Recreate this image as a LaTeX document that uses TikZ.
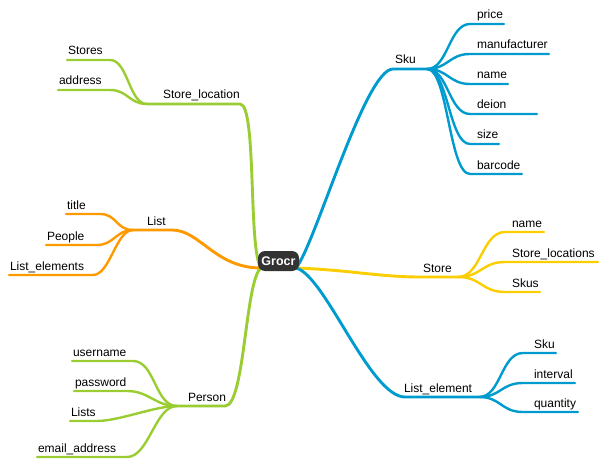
\documentclass[tikz,border=0pt]{standalone}
\usepackage{fontspec}
\setmainfont{Liberation Sans}
\definecolor{mmblue}{RGB}{0,155,206}
\definecolor{mmgreen}{RGB}{154,205,50}
\definecolor{mmorange}{RGB}{255,153,0}
\definecolor{mmyellow}{RGB}{250,206,0}
\definecolor{rootfill}{RGB}{51,51,51}
\tikzset{
  lbl/.style={anchor=base west, inner sep=0pt, outer sep=0pt, font=\fontsize{12}{14}\selectfont, text=black},
  leafline/.style={line width=2.4pt, line cap=round, line join=round},
  branchline/.style={line width=2.9pt, line cap=round, line join=round},
  rootbox/.style={fill=rootfill, rounded corners=7pt, minimum width=41pt, minimum height=20pt, inner sep=0pt, text=white, font=\fontsize{12.5}{14}\selectfont\bfseries},
}
\begin{document}
\begin{tikzpicture}[x=1pt,y=-1pt]
\useasboundingbox (0,0) rectangle (607,468);
% origins
\coordinate (L) at (261,268);
\coordinate (R) at (296,268);
% ---------------- Sku ----------------
\coordinate (skuA) at (393,69);
\coordinate (skuhub) at (427,69);
\draw[branchline,mmblue] (R) .. controls (315,245) and (365,69) .. (skuA) -- (skuhub);
\node[lbl] (sku) at (395,64) {Sku};
\foreach \n/\t/\y/\e in {price/price/24/504, manuf/manufacturer/54/549, skname/name/84/508, deion/deion/114/537, size/size/144/499, barcode/barcode/174/522}{
  \coordinate (\n-a) at (470,\y);
  \coordinate (\n-b) at (\e,\y);
  \node[lbl] (\n) at (477,\y-5) {\t};
  \draw[leafline,mmblue] (skuhub) .. controls +(21,0) and +(-21,0) .. (\n-a) -- (\n-b);
}
% ---------------- Store ----------------
\coordinate (storeA) at (420,277);
\coordinate (storehub) at (458,277);
\draw[branchline,mmyellow] (R) .. controls (350,270) and (380,277) .. (storeA) -- (storehub);
\node[lbl] (store) at (423,272) {Store};
\foreach \n/\t/\y/\e in {stname/name/232/544, stlocs/Store\_locations/262/598, skus/Skus/292/540}{
  \coordinate (\n-a) at (505,\y);
  \coordinate (\n-b) at (\e,\y);
  \node[lbl] (\n) at (512,\y-5) {\t};
  \draw[leafline,mmyellow] (storehub) .. controls +(23,0) and +(-23,0) .. (\n-a) -- (\n-b);
}
% ---------------- List_element ----------------
\coordinate (leA) at (405,397);
\coordinate (lehub) at (479,397);
\draw[branchline,mmblue] (R) .. controls (325,275) and (370,397) .. (leA) -- (lehub);
\node[lbl] (listel) at (404,392) {List\_element};
\foreach \n/\t/\y/\e in {lesku/Sku/353/556, interval/interval/383/575, quantity/quantity/412/578}{
  \coordinate (\n-a) at (523,\y);
  \coordinate (\n-b) at (\e,\y);
  \node[lbl] (\n) at (534,\y-5) {\t};
  \draw[leafline,mmblue] (lehub) .. controls +(22,0) and +(-22,0) .. (\n-a) -- (\n-b);
}
% ---------------- Store_location ----------------
\coordinate (slA) at (240,104);
\coordinate (slhub) at (147,104);
\draw[branchline,mmgreen] (L) .. controls (248,250) and (257,104) .. (slA) -- (slhub);
\node[lbl] (storeloc) at (163,99) {Store\_location};
\foreach \n/\t/\y/\s/\tx in {stores/Stores/60/67/68, address/address/90/58/59}{
  \coordinate (\n-a) at (110,\y);
  \coordinate (\n-b) at (\s,\y);
  \node[lbl] (\n) at (\tx,\y-5) {\t};
  \draw[leafline,mmgreen] (slhub) .. controls +(-18,0) and +(18,0) .. (\n-a) -- (\n-b);
}
% ---------------- List ----------------
\coordinate (listA) at (172,230);
\coordinate (listhub) at (133,230);
\draw[branchline,mmorange] (L) .. controls (215,268) and (200,230) .. (listA) -- (listhub);
\node[lbl] (list) at (147,225) {List};
\foreach \n/\t/\y/\a/\s/\tx in {title/title/214/100/66/67, people/People/245/97/46/47, listels/List\_elements/275/93/9/10}{
  \coordinate (\n-a) at (\a,\y);
  \coordinate (\n-b) at (\s,\y);
  \node[lbl] (\n) at (\tx,\y-5) {\t};
  \draw[leafline,mmorange] (listhub) .. controls +(-17,0) and +(17,0) .. (\n-a) -- (\n-b);
}
% ---------------- Person ----------------
\coordinate (perA) at (225,406);
\coordinate (perhub) at (177,406);
\draw[branchline,mmgreen] (L) .. controls (245,280) and (245,406) .. (perA) -- (perhub);
\node[lbl] (person) at (188,401) {Person};
\foreach \n/\t/\y/\a/\s/\tx in {username/username/361/133/72/73, password/password/391/127/74/75, lists/Lists/421/97/70/71, email/email\_address/457/127/37/38}{
  \coordinate (\n-a) at (\a,\y);
  \coordinate (\n-b) at (\s,\y);
  \node[lbl] (\n) at (\tx,\y-5) {\t};
  \draw[leafline,mmgreen] (perhub) .. controls +(-22,0) and +(22,0) .. (\n-a) -- (\n-b);
}
% ---------------- root ----------------
\node[rootbox] (grocr) at (278.5,261) {Grocr};
\end{tikzpicture}
\end{document}
